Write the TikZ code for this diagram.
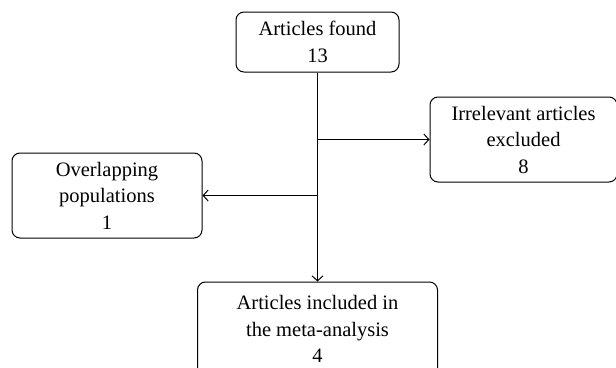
\documentclass[tikz,border=0pt]{standalone}
\usepackage{fontspec}
\setmainfont{Liberation Serif}
\usetikzlibrary{arrows.meta}
\begin{document}
\begin{tikzpicture}[x=1pt, y=-1pt,
    stage/.style={draw, rounded corners=8pt, align=center, inner sep=0pt,
      line width=1pt, font=\fontsize{20.5}{26.5}\selectfont},
    flow/.style={-{Straight Barb[length=5pt,width=11pt]}, line width=1pt}]
  \useasboundingbox (0,0) rectangle (616,367);
  % boxes
  \node[stage, minimum width=163pt, minimum height=60pt] (found) at (317.5,42) {Articles found\\13};
  \node[stage, minimum width=187pt, minimum height=85pt] (excluded) at (523.5,139.5) {Irrelevant articles\\excluded\\8};
  \node[stage, minimum width=190pt, minimum height=85pt] (overlap) at (107,195.5) {Overlapping\\populations\\1};
  \node[stage, minimum width=240pt, minimum height=94pt] (included) at (317.5,329) {Articles included in\\the meta-analysis\\4};
  % connectors
  \draw[flow] (found.south) -- (included.north);
  \draw[flow] (found.south |- excluded.west) -- (excluded.west);
  \draw[flow] (found.south |- overlap.east) -- (overlap.east);
\end{tikzpicture}
\end{document}
